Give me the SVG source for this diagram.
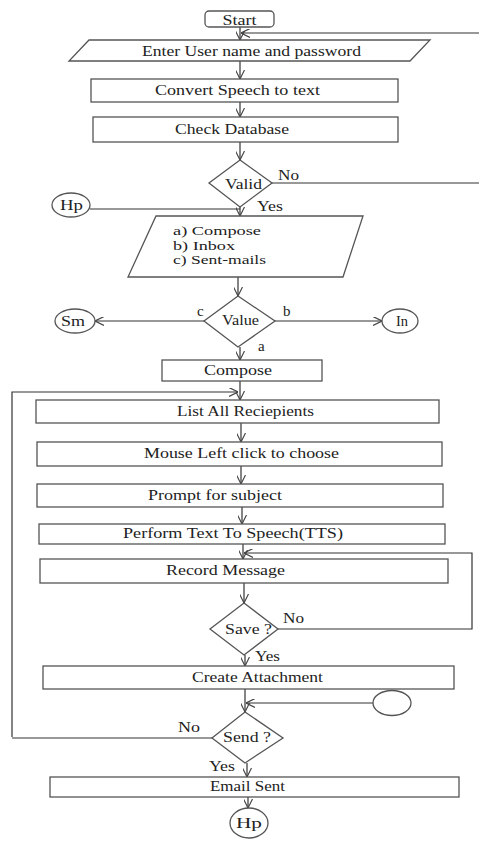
<svg xmlns="http://www.w3.org/2000/svg" width="479" height="843" viewBox="0 0 479 843">
<defs>
<marker id="arr" viewBox="0 0 10 10" refX="10" refY="5" markerWidth="9" markerHeight="9" markerUnits="userSpaceOnUse" orient="auto">
<path d="M0,0 L10,5 L0,10" fill="none" stroke="#444" stroke-width="1.3"/>
</marker>
<style>
.b{fill:#fff;stroke:#555;stroke-width:1.3}
.c{fill:none;stroke:#333;stroke-width:1.2}
.t{font-family:"Liberation Serif","Times New Roman",serif;font-size:15px;fill:#222}
.s{font-size:13px}
.m{text-anchor:middle}
</style>
</defs>
<rect width="479" height="843" fill="#fff"/>
<g id="connectors">
<path class="c" d="M240,27 V40" marker-end="url(#arr)"/>
<path class="c" d="M479,33 H241" marker-end="url(#arr)"/>
<path class="c" d="M240,61 V79" marker-end="url(#arr)"/>
<path class="c" d="M240,102 V117" marker-end="url(#arr)"/>
<path class="c" d="M240,142 V160" marker-end="url(#arr)"/>
<path class="c" d="M272,183 H479"/>
<path class="c" d="M240,207 V216" marker-end="url(#arr)"/>
<path class="c" d="M90,209 H240"/>
<path class="c" d="M238,277 V296" marker-end="url(#arr)"/>
<path class="c" d="M204,321 H95" marker-end="url(#arr)"/>
<path class="c" d="M275,321 H382" marker-end="url(#arr)"/>
<path class="c" d="M240,347 V360" marker-end="url(#arr)"/>
<path class="c" d="M240,381 V400" marker-end="url(#arr)"/>
<path class="c" d="M12,737 V392 H238" marker-end="url(#arr)"/>
<path class="c" d="M241,423 V442" marker-end="url(#arr)"/>
<path class="c" d="M241,466 V484" marker-end="url(#arr)"/>
<path class="c" d="M242,507 V524" marker-end="url(#arr)"/>
<path class="c" d="M243,544 V559" marker-end="url(#arr)"/>
<path class="c" d="M278,629 H472 V553 H244" marker-end="url(#arr)"/>
<path class="c" d="M244,583 V603" marker-end="url(#arr)"/>
<path class="c" d="M245,655 V666" marker-end="url(#arr)"/>
<path class="c" d="M245,689 V712" marker-end="url(#arr)"/>
<path class="c" d="M373,703 H246" marker-end="url(#arr)"/>
<path class="c" d="M212,738 H12"/>
<path class="c" d="M247,763 V777" marker-end="url(#arr)"/>
<path class="c" d="M248,797 V808" marker-end="url(#arr)"/>
<text class="t" x="278" y="180" textLength="21" lengthAdjust="spacingAndGlyphs">No</text>
<text class="t" x="257" y="211" textLength="26" lengthAdjust="spacingAndGlyphs">Yes</text>
<text class="t" x="197" y="316">c</text>
<text class="t" x="283" y="316">b</text>
<text class="t" x="258" y="351">a</text>
<text class="t" x="283" y="623" textLength="21" lengthAdjust="spacingAndGlyphs">No</text>
<text class="t" x="255" y="661" textLength="25" lengthAdjust="spacingAndGlyphs">Yes</text>
<text class="t" x="178" y="732" textLength="22" lengthAdjust="spacingAndGlyphs">No</text>
<text class="t" x="209" y="771" textLength="26" lengthAdjust="spacingAndGlyphs">Yes</text>
</g>
<g id="start"><rect class="b" x="205" y="11" width="69" height="16" rx="4"/><text class="t m" x="239.5" y="24.5" textLength="34" lengthAdjust="spacingAndGlyphs">Start</text></g>
<g id="login"><polygon class="b" points="89,40 430,40 410,61 69,61"/><text class="t" x="142" y="56" textLength="219" lengthAdjust="spacingAndGlyphs">Enter User name and password</text></g>
<g id="stt"><rect class="b" x="91" y="79" width="307" height="23"/><text class="t" x="155" y="95" textLength="165" lengthAdjust="spacingAndGlyphs">Convert Speech to text</text></g>
<g id="checkdb"><rect class="b" x="93" y="117" width="305" height="25"/><text class="t" x="175" y="134" textLength="114" lengthAdjust="spacingAndGlyphs">Check Database</text></g>
<g id="valid"><polygon class="b" points="240,160 272,183 240,207 209,183"/><text class="t" x="225" y="189" textLength="37" lengthAdjust="spacingAndGlyphs">Valid</text></g>
<g id="hp1"><ellipse class="b" cx="71" cy="205" rx="19" ry="12"/><text class="t" x="60" y="210" textLength="23" lengthAdjust="spacingAndGlyphs">Hp</text></g>
<g id="menu"><polygon class="b" points="156,216 363,216 343,277 128,277"/>
<text class="t s" x="173" y="235" textLength="88" lengthAdjust="spacingAndGlyphs">a) Compose</text>
<text class="t s" x="173" y="249.5" textLength="62" lengthAdjust="spacingAndGlyphs">b) Inbox</text>
<text class="t s" x="173" y="264" textLength="93" lengthAdjust="spacingAndGlyphs">c) Sent-mails</text></g>
<g id="value"><polygon class="b" points="238,296 275,321 238,347 204,321"/><text class="t" x="222" y="325" textLength="37" lengthAdjust="spacingAndGlyphs">Value</text></g>
<g id="sm"><ellipse class="b" cx="75" cy="321" rx="20" ry="12"/><text class="t" x="61" y="326" textLength="24" lengthAdjust="spacingAndGlyphs">Sm</text></g>
<g id="in"><ellipse class="b" cx="400" cy="321" rx="18" ry="12"/><text class="t" x="396" y="326" textLength="12" lengthAdjust="spacingAndGlyphs">In</text></g>
<g id="compose"><rect class="b" x="162" y="360" width="160" height="21"/><text class="t" x="204" y="375" textLength="68" lengthAdjust="spacingAndGlyphs">Compose</text></g>
<g id="list"><rect class="b" x="36" y="400" width="403" height="23"/><text class="t" x="177" y="416" textLength="137" lengthAdjust="spacingAndGlyphs">List All Reciepients</text></g>
<g id="mouse"><rect class="b" x="37" y="442" width="405" height="24"/><text class="t" x="144" y="458" textLength="195" lengthAdjust="spacingAndGlyphs">Mouse Left click to choose</text></g>
<g id="prompt"><rect class="b" x="37" y="484" width="406" height="23"/><text class="t" x="148" y="500" textLength="134" lengthAdjust="spacingAndGlyphs">Prompt for subject</text></g>
<g id="tts"><rect class="b" x="39" y="524" width="406" height="20"/><text class="t" x="123" y="538" textLength="220" lengthAdjust="spacingAndGlyphs">Perform Text To Speech(TTS)</text></g>
<g id="record"><rect class="b" x="40" y="559" width="408" height="24"/><text class="t" x="166" y="575" textLength="119" lengthAdjust="spacingAndGlyphs">Record Message</text></g>
<g id="save"><polygon class="b" points="244,603 278,629 244,655 210,629"/><text class="t" x="225" y="634" textLength="47" lengthAdjust="spacingAndGlyphs">Save ?</text></g>
<g id="attach"><rect class="b" x="43" y="666" width="411" height="23"/><text class="t" x="192" y="682" textLength="131" lengthAdjust="spacingAndGlyphs">Create Attachment</text></g>
<g id="blank"><ellipse class="b" cx="392" cy="703" rx="19" ry="12.5"/></g>
<g id="send"><polygon class="b" points="245,712 283,738 245,763 212,738"/><text class="t" x="223" y="742" textLength="48" lengthAdjust="spacingAndGlyphs">Send ?</text></g>
<g id="sent"><rect class="b" x="50" y="777" width="409" height="20"/><text class="t" x="210" y="791" textLength="75" lengthAdjust="spacingAndGlyphs">Email Sent</text></g>
<g id="hp2"><ellipse class="b" cx="249" cy="823" rx="19" ry="15"/><text class="t" x="236" y="828" textLength="26" lengthAdjust="spacingAndGlyphs">Hp</text></g>
</svg>
